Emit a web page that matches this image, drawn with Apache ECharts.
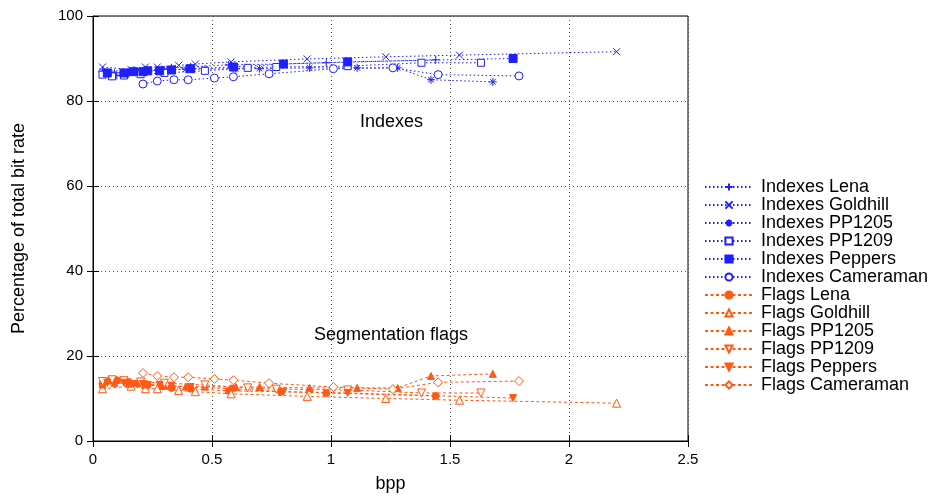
<!DOCTYPE html>
<html>
<head>
<meta charset="utf-8">
<script src="https://cdn.jsdelivr.net/npm/echarts@6/dist/echarts.min.js"></script>
<style>
  html, body { margin: 0; padding: 0; background: #fff; }
  #chart { width: 928px; height: 498px; }
</style>
</head>
<body>
<div id="chart"></div>
<script>
// Share of the total bit rate spent on indexes vs. segmentation flags, per test image
const xTicks = [0, 0.5, 1, 1.5, 2, 2.5];
const yTicks = [0, 20, 40, 60, 80, 100];

const bppLena      = [0.04, 0.07, 0.10, 0.15, 0.19, 0.23, 0.29, 0.33, 0.41, 0.57, 0.79, 0.98, 1.44];
const idxLena      = [86.8, 86.1, 86.0, 86.4, 86.8, 87.1, 87.4, 87.8, 88.0, 88.5, 88.7, 89.0, 89.7];
const flgLena      = [13.5, 14.2, 14.3, 13.9, 13.5, 13.2, 12.9, 12.5, 12.3, 11.8, 11.6, 11.3, 10.6];

const bppGoldhill  = [0.04, 0.16, 0.22, 0.27, 0.36, 0.43, 0.58, 0.90, 1.23, 1.54, 2.20];
const idxGoldhill  = [88.0, 87.4, 88.0, 88.0, 88.4, 88.7, 89.2, 89.9, 90.4, 90.8, 91.6];
const flgGoldhill  = [12.3, 12.9, 12.3, 12.3, 11.9, 11.6, 11.1, 10.5, 10.0, 9.6, 8.9];

const bppPP1205    = [0.04, 0.09, 0.15, 0.22, 0.30, 0.39, 0.47, 0.60, 0.70, 0.91, 1.11, 1.28, 1.42, 1.68];
const idxPP1205    = [87.0, 86.6, 86.8, 87.0, 87.3, 87.5, 87.5, 87.6, 87.6, 87.8, 87.8, 87.8, 85.0, 84.5];
const flgPP1205    = [13.3, 13.7, 13.5, 13.3, 13.0, 12.8, 12.8, 12.7, 12.7, 12.5, 12.5, 12.5, 15.3, 15.8];

const bppPP1209    = [0.04, 0.08, 0.13, 0.20, 0.30, 0.47, 0.65, 0.77, 1.07, 1.38, 1.63];
const idxPP1209    = [86.2, 85.8, 86.0, 86.3, 86.6, 87.1, 87.8, 88.0, 88.2, 89.0, 89.0];
const flgPP1209    = [14.0, 14.4, 14.2, 13.9, 13.6, 13.2, 12.5, 12.2, 12.0, 11.3, 11.3];

const bppPeppers   = [0.06, 0.13, 0.17, 0.21, 0.23, 0.28, 0.33, 0.41, 0.59, 0.80, 1.07, 1.765];
const idxPeppers   = [86.6, 86.6, 86.9, 86.9, 87.1, 87.1, 87.3, 87.6, 88.0, 88.7, 89.2, 90.0];
const flgPeppers   = [13.7, 13.7, 13.4, 13.4, 13.2, 13.2, 13.0, 12.7, 12.3, 11.6, 11.3, 10.1];

const bppCameraman = [0.21, 0.27, 0.34, 0.40, 0.51, 0.59, 0.74, 1.01, 1.26, 1.45, 1.79];
const idxCameraman = [84.0, 84.7, 85.0, 85.0, 85.4, 85.7, 86.4, 87.6, 87.8, 86.2, 85.9];
const flgCameraman = [16.0, 15.3, 15.0, 15.0, 14.6, 14.3, 13.6, 12.7, 12.2, 13.8, 14.1];

const images = ['Lena', 'Goldhill', 'PP1205', 'PP1209', 'Peppers', 'Cameraman'];
const bppSets = [bppLena, bppGoldhill, bppPP1205, bppPP1209, bppPeppers, bppCameraman];
const idxSets = [idxLena, idxGoldhill, idxPP1205, idxPP1209, idxPeppers, idxCameraman];
const flgSets = [flgLena, flgGoldhill, flgPP1205, flgPP1209, flgPeppers, flgCameraman];

const BLUE = '#1f1fff';
const ORANGE = '#ff5a14';
const FONT = 'Liberation Sans, Arial, Helvetica, sans-serif';

const PLUS = 'path://M0,5L10,5M5,0L5,10';
const CROSS = 'path://M0,0L10,10M10,0L0,10';
const STAR = 'path://M0,5L10,5M5,0L5,10M1.5,1.5L8.5,8.5M8.5,1.5L1.5,8.5';

// point styles: [symbol, filled, size, rotate]
const idxMarks = [
  [PLUS, false, 8, 0],
  [CROSS, false, 7, 0],
  [STAR, false, 8, 0],
  ['rect', false, 7, 0],
  ['rect', true, 8, 0],
  ['circle', false, 8, 0]
];
const flgMarks = [
  ['circle', true, 7, 0],
  ['triangle', false, 8, 0],
  ['triangle', true, 7, 0],
  ['triangle', false, 8, 180],
  ['triangle', true, 7, 180],
  ['diamond', false, 9, 0]
];

function makeSeries(prefix, ys, marks, color, dash) {
  return images.map((name, i) => {
    const [sym, filled, size, rot] = marks[i];
    return {
      name: prefix + ' ' + name,
      type: 'line',
      data: bppSets[i].map((x, k) => [x, ys[i][k]]),
      symbol: sym,
      symbolSize: size,
      symbolRotate: rot,
      showAllSymbol: true,
      animation: false,
      lineStyle: { color: color, width: 1, type: dash },
      itemStyle: {
        color: filled ? color : '#ffffff',
        borderColor: color,
        borderWidth: 1
      },
      emphasis: { disabled: true }
    };
  });
}

const series = [].concat(
  makeSeries('Indexes', idxSets, idxMarks, BLUE, [1.5, 2.5]),
  makeSeries('Flags', flgSets, flgMarks, ORANGE, [3, 2.5])
);

const chart = echarts.init(document.getElementById('chart'), null, { renderer: 'canvas' });
chart.setOption({
  backgroundColor: '#ffffff',
  animation: false,
  textStyle: { fontFamily: FONT },
  grid: { left: 93, right: 240, top: 16, bottom: 56, show: true, borderColor: '#000', borderWidth: 1 },
  legend: {
    orient: 'vertical',
    left: 699,
    top: 173,
    itemWidth: 48,
    itemHeight: 9,
    itemGap: 0,
    data: series.map(s => s.name),
    textStyle: { fontSize: 18, lineHeight: 17.9, color: '#000', fontFamily: FONT, padding: [0, 0, 0, 3] },
    selectedMode: false
  },
  xAxis: [{
    type: 'value',
    min: xTicks[0], max: xTicks[xTicks.length - 1], interval: 0.5,
    name: 'bpp', nameLocation: 'middle', nameGap: 34,
    nameTextStyle: { fontSize: 18, color: '#000', fontFamily: FONT },
    axisLine: { show: true, lineStyle: { color: '#000' } },
    axisTick: { show: true, inside: true, length: 6, lineStyle: { color: '#000' } },
    axisLabel: { fontSize: 15, color: '#000', margin: 11, fontFamily: FONT },
    splitLine: { show: true, lineStyle: { color: '#555', type: [1, 3], width: 1 } }
  }, {
    type: 'value', position: 'top',
    min: xTicks[0], max: xTicks[xTicks.length - 1], interval: 0.5,
    axisLine: { show: false },
    axisTick: { show: true, inside: true, length: 6, lineStyle: { color: '#000' } },
    axisLabel: { show: false }, splitLine: { show: false }
  }],
  yAxis: [{
    type: 'value',
    min: yTicks[0], max: yTicks[yTicks.length - 1], interval: 20,
    name: 'Percentage of total bit rate', nameLocation: 'middle', nameGap: 65,
    nameTextStyle: { fontSize: 18, color: '#000', fontFamily: FONT },
    axisLine: { show: true, lineStyle: { color: '#000' } },
    axisTick: { show: true, inside: true, length: 6, lineStyle: { color: '#000' } },
    axisLabel: { fontSize: 15, color: '#000', margin: 10, fontFamily: FONT },
    splitLine: { show: true, lineStyle: { color: '#555', type: [1, 3], width: 1 } }
  }, {
    type: 'value', position: 'right',
    min: yTicks[0], max: yTicks[yTicks.length - 1], interval: 20,
    axisLine: { show: false },
    axisTick: { show: true, inside: true, length: 6, lineStyle: { color: '#000' } },
    axisLabel: { show: false }, splitLine: { show: false }
  }],
  graphic: [
    { type: 'text', left: 360, top: 113, style: { text: 'Indexes', fontSize: 18, fill: '#000', fontFamily: FONT } },
    { type: 'text', left: 314, top: 326, style: { text: 'Segmentation flags', fontSize: 18, fill: '#000', fontFamily: FONT } }
  ],
  series: series
});
</script>
</body>
</html>
